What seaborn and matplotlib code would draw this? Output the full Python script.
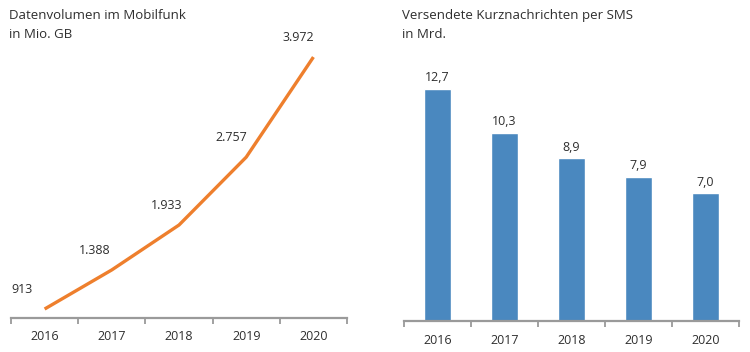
import matplotlib
matplotlib.use("Agg")
import matplotlib.pyplot as plt
import seaborn as sns
import pandas as pd

years = ["2016", "2017", "2018", "2019", "2020"]
data_volume = [913, 1388, 1933, 2757, 3972]
sms_count = [12.7, 10.3, 8.9, 7.9, 7.0]

left_title = "Datenvolumen im Mobilfunk"
left_unit = "in Mio. GB"
right_title = "Versendete Kurznachrichten per SMS"
right_unit = "in Mrd."

TEXT = "#2e2e2e"
AXIS = "#9a9a9a"
ORANGE = "#ee7f2d"
BLUE = "#4a88bf"

sns.set_theme(style="white")
plt.rcParams["font.family"] = ["Open Sans", "DejaVu Sans"]

df = pd.DataFrame({"year": years, "volume": data_volume, "sms": sms_count})

fig = plt.figure(figsize=(7.5, 3.52), dpi=100)
ax1 = fig.add_axes([0.0147, 0.0966, 0.448, 0.79])
ax2 = fig.add_axes([0.5387, 0.088, 0.4466, 0.798])


def style_axis(ax):
    for side in ["top", "right", "left"]:
        ax.spines[side].set_visible(False)
    ax.spines["bottom"].set_color(AXIS)
    ax.spines["bottom"].set_linewidth(1.6)
    ax.set_xlim(-0.5, len(years) - 0.5)
    ax.set_xticks(range(len(years)))
    ax.set_xticklabels(years, fontsize=9, color=TEXT)
    ax.tick_params(axis="x", which="major", length=0, pad=9)
    ax.set_xticks([i - 0.5 for i in range(len(years) + 1)], minor=True)
    ax.tick_params(axis="x", which="minor", bottom=True, length=4, width=1.3,
                   color=AXIS, direction="out")
    ax.set_yticks([])
    ax.set_xlabel("")
    ax.set_ylabel("")
    ax.patch.set_alpha(0)


# line chart
sns.lineplot(data=df, x=range(len(years)), y="volume", ax=ax1,
             color=ORANGE, linewidth=2.4, solid_capstyle="butt")
ax1.set_ylim(804, 4180)
style_axis(ax1)
label_dx = [-16, -12, -9, -11, -11]
for i, v in enumerate(data_volume):
    txt = f"{v:,}".replace(",", ".")
    ax1.annotate(txt, (i, v), xytext=(label_dx[i], 14), textcoords="offset points",
                 ha="center", va="center", fontsize=9, color=TEXT)

# bar chart
sns.barplot(data=df, x="year", y="sms", ax=ax2, color=BLUE,
            width=0.4, saturation=1)
ax2.set_ylim(0, 15.38)
style_axis(ax2)
for i, v in enumerate(sms_count):
    ax2.annotate(f"{v:.1f}".replace(".", ","), (i, v), xytext=(0, 8),
                 textcoords="offset points", ha="center", va="center",
                 fontsize=9, color=TEXT)

fig.text(0.012, 0.957, left_title, fontsize=9.5, color=TEXT, va="center")
fig.text(0.012, 0.903, left_unit, fontsize=9.5, color=TEXT, va="center")
fig.text(0.536, 0.957, right_title, fontsize=9.5, color=TEXT, va="center")
fig.text(0.536, 0.903, right_unit, fontsize=9.5, color=TEXT, va="center")

fig.savefig("out.png", dpi=100, facecolor="white")
